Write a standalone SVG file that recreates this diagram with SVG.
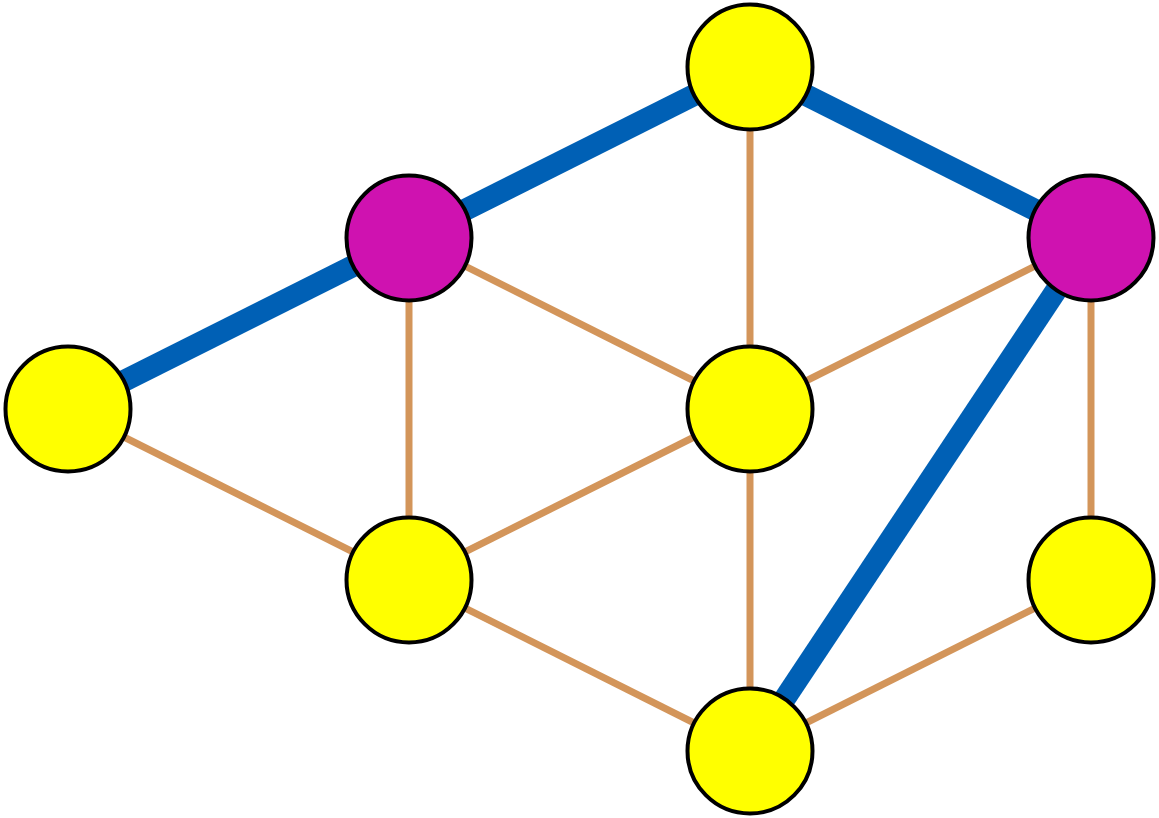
<svg xmlns="http://www.w3.org/2000/svg" width="1159" height="818" viewBox="0 0 1159 818">
<style>
.t{stroke:#D3955A;stroke-width:7;fill:none}
.b{stroke:#0060B5;stroke-width:22;fill:none}
.n{stroke:#000;stroke-width:4}
.y{fill:#FFFF00}
.m{fill:#CF12B0}
</style>
<rect width="1159" height="818" fill="#fff"/>
<g id="connectors">
<line class="t" x1="68" y1="409" x2="409" y2="580"/>
<line class="t" x1="409" y1="238" x2="409" y2="580"/>
<line class="t" x1="409" y1="238" x2="750" y2="409"/>
<line class="t" x1="750" y1="67" x2="750" y2="409"/>
<line class="t" x1="1091" y1="238" x2="750" y2="409"/>
<line class="t" x1="750" y1="409" x2="409" y2="580"/>
<line class="t" x1="750" y1="409" x2="750" y2="751"/>
<line class="t" x1="409" y1="580" x2="750" y2="751"/>
<line class="t" x1="1091" y1="238" x2="1091" y2="580"/>
<line class="t" x1="1091" y1="580" x2="750" y2="751"/>
<line class="b" x1="68" y1="409" x2="409" y2="238"/>
<line class="b" x1="409" y1="238" x2="750" y2="67"/>
<line class="b" x1="750" y1="67" x2="1091" y2="238"/>
<line class="b" x1="1091" y1="238" x2="750" y2="751"/>
</g>
<g id="n1"><circle class="n y" cx="68" cy="409" r="62.5"/></g>
<g id="n2"><circle class="n m" cx="409" cy="238" r="62.5"/></g>
<g id="n3"><circle class="n y" cx="750" cy="67" r="62.5"/></g>
<g id="n4"><circle class="n m" cx="1091" cy="238" r="62.5"/></g>
<g id="n5"><circle class="n y" cx="750" cy="409" r="62.5"/></g>
<g id="n6"><circle class="n y" cx="409" cy="580" r="62.5"/></g>
<g id="n7"><circle class="n y" cx="1091" cy="580" r="62.5"/></g>
<g id="n8"><circle class="n y" cx="750" cy="751" r="62.5"/></g>
</svg>
